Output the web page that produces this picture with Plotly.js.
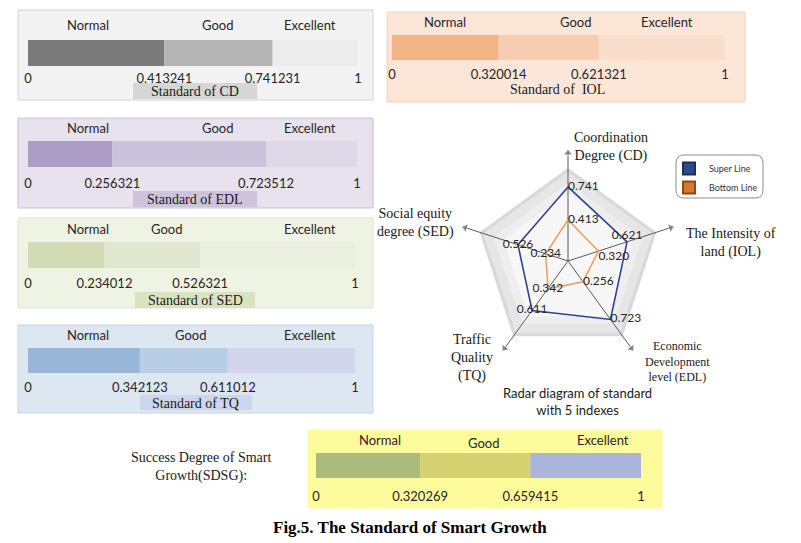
<!DOCTYPE html>
<html>
<head>
<meta charset="utf-8">
<script src="https://cdn.plot.ly/plotly-3.0.1.min.js"></script>
<style>html,body{margin:0;padding:0;background:#fff;}#chart{width:801px;height:543px;}</style>
</head>
<body>
<div id="chart"></div>
<script>
// ---------------- DATA ----------------
const levels = ['Normal', 'Good', 'Excellent'];
const thrCD = [0.413241, 0.741231];
const thrIOL = [0.320014, 0.621321];
const thrEDL = [0.256321, 0.723512];
const thrSED = [0.234012, 0.526321];
const thrTQ = [0.342123, 0.611012];
const thrSDSG = [0.320269, 0.659415];
const tickCD = ['0', '0.413241', '0.741231', '1'];
const tickIOL = ['0', '0.320014', '0.621321', '1'];
const tickEDL = ['0', '0.256321', '0.723512', '1'];
const tickSED = ['0', '0.234012', '0.526321', '1'];
const tickTQ = ['0', '0.342123', '0.611012', '1'];
const tickSDSG = ['0', '0.320269', '0.659415', '1'];
const radarAxes = ['CD', 'IOL', 'EDL', 'TQ', 'SED'];
const superLine = [0.741, 0.621, 0.723, 0.611, 0.526];
const bottomLine = [0.413, 0.320, 0.256, 0.342, 0.234];

// ---------------- HELPERS / STYLE ----------------
const W = 801, H = 543;
const px = x => x / W;
const py = y => 1 - y / H;
const SANS = 'Lato, "Liberation Sans", sans-serif';
const SERIF = '"Liberation Serif", "Times New Roman", serif';

const panels = [
  {thr: thrCD, ticks: tickCD, box: [18, 10, 373, 100], bar: [28, 40, 358, 66], labelY: 25, labelX: [88, 217, 310], standoff: 3,
   colors: ['#7b7b7b', '#b4b4b4', '#ececec'], bg: '#f3f3f3', border: '#d4d4d4',
   title: 'Standard of CD', titleXY: [195, 91], titleBox: [133, 83, 257, 99], titleBg: '#d6d6d6'},
  {thr: thrIOL, ticks: tickIOL, box: [387, 12, 745, 102], bar: [392, 35, 725, 60], labelY: 22, labelX: [445, 575, 667], standoff: 5,
   colors: ['#f1b487', '#f6cdb0', '#f9dfcb'], bg: '#fce6d8', border: '#f1d2bd',
   title: 'Standard of  IOL', titleXY: [557, 89], titleBox: null, titleBg: null},
  {thr: thrEDL, ticks: tickEDL, box: [18, 118, 373, 208], bar: [28, 141, 357, 167], labelY: 128, labelX: [88, 217, 310], standoff: 7,
   colors: ['#ad9cc6', '#cbc2db', '#ddd7e7'], bg: '#e7e2ee', border: '#cbc2d9',
   title: 'Standard of EDL', titleXY: [195, 199], titleBox: [133, 191, 257, 207], titleBg: '#cdc3dc'},
  {thr: thrSED, ticks: tickSED, box: [18, 218, 373, 308], bar: [28, 242, 355, 268], labelY: 229, labelX: [88, 166, 310], standoff: 6,
   colors: ['#d3dbb4', '#e1e7cf', '#ebefe0'], bg: '#eff3e4', border: '#dfe5cf',
   title: 'Standard of SED', titleXY: [195, 300], titleBox: [135, 292, 255, 308], titleBg: '#d9e3bf'},
  {thr: thrTQ, ticks: tickTQ, box: [18, 325, 373, 413], bar: [28, 348, 355, 373], labelY: 335, labelX: [88, 190, 310], standoff: 5,
   colors: ['#97b6d8', '#b8cee6', '#d3d5ec'], bg: '#dde7f2', border: '#c5d4e6',
   title: 'Standard of TQ', titleXY: [195, 403], titleBox: [140, 395, 252, 410], titleBg: '#cdd6ec'},
  {thr: thrSDSG, ticks: tickSDSG, box: [308, 430, 662, 508], bar: [316, 453, 641, 478], labelY: 440, labelX: [380, 483, 603], standoff: 9,
   labelDY: [0, 3, 0],
   colors: ['#aabb7b', '#d6d272', '#abb4dd'], bg: '#fefb9c', border: '#fefb9c',
   title: null}
];

const traces = [];
const layout = {
  width: W, height: H,
  margin: {l: 0, r: 0, t: 0, b: 0},
  paper_bgcolor: '#ffffff', plot_bgcolor: 'rgba(0,0,0,0)',
  showlegend: true, barmode: 'overlay', hovermode: false,
  shapes: [], annotations: []
};

panels.forEach((p, i) => {
  const n = i + 1;
  const xa = 'xaxis' + (n === 1 ? '' : n), ya = 'yaxis' + (n === 1 ? '' : n);
  const xr = 'x' + (n === 1 ? '' : n), yr = 'y' + (n === 1 ? '' : n);
  const bounds = [0, p.thr[0], p.thr[1], 1];
  traces.push({
    type: 'bar', orientation: 'h', xaxis: xr, yaxis: yr,
    y: [0, 0, 0], base: bounds.slice(0, 3),
    x: [bounds[1] - bounds[0], bounds[2] - bounds[1], bounds[3] - bounds[2]],
    width: 1, marker: {color: p.colors, line: {width: 0}},
    text: levels, textposition: 'none', showlegend: false, hoverinfo: 'skip'
  });
  layout[xa] = {
    domain: [px(p.bar[0]), px(p.bar[2])], anchor: yr, range: [0, 1],
    showgrid: false, zeroline: false, showline: false, ticks: '',
    tickmode: 'array', tickvals: bounds, ticktext: p.ticks, ticklabelstandoff: p.standoff,
    tickfont: {family: SANS, size: 13, color: '#262626'}, fixedrange: true
  };
  layout[ya] = {
    domain: [py(p.bar[3]), py(p.bar[1])], anchor: xr, range: [-0.5, 0.5],
    visible: false, fixedrange: true
  };
  layout.shapes.push({type: 'rect', xref: 'paper', yref: 'paper', layer: 'below',
    x0: px(p.box[0]), x1: px(p.box[2]), y0: py(p.box[3]), y1: py(p.box[1]),
    fillcolor: p.bg, line: {color: p.border, width: 1}});
  levels.forEach((lv, k) => {
    layout.annotations.push({xref: 'paper', yref: 'paper', x: px(p.labelX[k]),
      y: py(p.labelY + (p.labelDY ? p.labelDY[k] : 0)), text: lv, showarrow: false,
      xanchor: 'center', yanchor: 'middle', font: {family: SANS, size: 13, color: '#262626'}});
  });
  if (p.title) {
    if (p.titleBox) {
      layout.shapes.push({type: 'rect', xref: 'paper', yref: 'paper', layer: 'below',
        x0: px(p.titleBox[0]), x1: px(p.titleBox[2]), y0: py(p.titleBox[3]), y1: py(p.titleBox[1]),
        fillcolor: p.titleBg, line: {width: 0}});
    }
    layout.annotations.push({xref: 'paper', yref: 'paper', x: px(p.titleXY[0]), y: py(p.titleXY[1]),
      text: p.title, showarrow: false, xanchor: 'center', yanchor: 'middle',
      font: {family: SERIF, size: 14, color: '#1a1a1a'}});
  }
});

// ---------------- RADAR ----------------
layout.polar = {
  domain: {x: [px(458), px(678)], y: [py(371), py(151)]},
  bgcolor: 'rgba(0,0,0,0)',
  radialaxis: {range: [0, 1.1], visible: false},
  angularaxis: {visible: false, type: 'category', rotation: 90, direction: 'clockwise',
    categoryorder: 'array', categoryarray: radarAxes}
};
const closed = a => a.concat([a[0]]);
const ring = (r, color) => ({type: 'scatterpolar', r: closed(radarAxes.map(() => r)), theta: closed(radarAxes),
  mode: 'lines', fill: 'toself', fillcolor: color, line: {width: 0, color: color}, showlegend: false, hoverinfo: 'skip'});
traces.push(ring(0.93, '#d9d9d9'));
traces.push(ring(0.89, '#e6e6e6'));
traces.push(ring(0.78, '#eeeeee'));
traces.push(ring(0.68, '#f7f7f7'));
radarAxes.forEach(c => {
  traces.push({type: 'scatterpolar', r: [0, 1.08], theta: [c, c], mode: 'lines+markers',
    line: {color: '#5a5a5a', width: 1},
    marker: {size: [0, 8], symbol: 'triangle-up', angleref: 'previous', color: '#5a5a5a'},
    showlegend: false, hoverinfo: 'skip'});
});
traces.push({type: 'scatterpolar', r: closed(superLine), theta: closed(radarAxes), mode: 'lines',
  line: {color: '#34438f', width: 1.6}, showlegend: false, hoverinfo: 'skip'});
traces.push({type: 'scatterpolar', r: closed(bottomLine), theta: closed(radarAxes), mode: 'lines',
  line: {color: '#f0a060', width: 1.6}, showlegend: false, hoverinfo: 'skip'});
traces.push({type: 'scatterpolar', r: superLine, theta: radarAxes, mode: 'text',
  text: superLine.map(v => v.toFixed(3)),
  textposition: ['middle right', 'top center', 'middle right', 'middle center', 'middle center'],
  textfont: {family: SANS, size: 12, color: '#262626'}, showlegend: false, hoverinfo: 'skip'});
traces.push({type: 'scatterpolar', r: bottomLine, theta: radarAxes, mode: 'text',
  text: bottomLine.map(v => v.toFixed(3)),
  textposition: ['middle right', 'bottom right', 'middle right', 'middle center', 'middle center'],
  textfont: {family: SANS, size: 12, color: '#262626'}, showlegend: false, hoverinfo: 'skip'});
// legend entries
traces.push({type: 'scatterpolar', r: [null], theta: ['CD'], mode: 'markers', name: 'Super Line',
  marker: {symbol: 'square', size: 10, color: '#2f4a8a', line: {color: '#1c2e5e', width: 1}}});
traces.push({type: 'scatterpolar', r: [null], theta: ['CD'], mode: 'markers', name: 'Bottom Line',
  marker: {symbol: 'square', size: 10, color: '#d9782a', line: {color: '#8a4a14', width: 1}}});

layout.legend = {x: px(669), y: py(154), xanchor: 'left', yanchor: 'top',
  bgcolor: 'rgba(0,0,0,0)', borderwidth: 0, font: {family: SANS, size: 9, color: '#333'},
  itemsizing: 'constant', tracegroupgap: 0};

// rounded legend frame
(function () {
  const x0 = 676, y0 = 155, x1 = 763, y1 = 198, r = 8;
  const P = (x, y) => px(x) + ',' + py(y);
  const path = 'M' + P(x0 + r, y0) + ' L' + P(x1 - r, y0) + ' Q' + P(x1, y0) + ' ' + P(x1, y0 + r) +
    ' L' + P(x1, y1 - r) + ' Q' + P(x1, y1) + ' ' + P(x1 - r, y1) +
    ' L' + P(x0 + r, y1) + ' Q' + P(x0, y1) + ' ' + P(x0, y1 - r) +
    ' L' + P(x0, y0 + r) + ' Q' + P(x0, y0) + ' ' + P(x0 + r, y0) + ' Z';
  layout.shapes.push({type: 'path', xref: 'paper', yref: 'paper', layer: 'below', path: path,
    fillcolor: '#ffffff', line: {color: '#8c8c8c', width: 1}});
})();

const addText = (x, y, text, font, align) => layout.annotations.push({xref: 'paper', yref: 'paper',
  x: px(x), y: py(y), text: text, showarrow: false, xanchor: 'center', yanchor: 'middle',
  align: align || 'center', font: font});
const serif14 = {family: SERIF, size: 14, color: '#1a1a1a'};
addText(611, 147, 'Coordination<br>Degree (CD)', serif14);
addText(731, 243, 'The Intensity of<br>land (IOL)', serif14);
addText(677, 361, 'Economic<br>Development<br>level (EDL)', {family: SERIF, size: 12, color: '#1a1a1a'});
addText(472, 358, 'Traffic<br>Quality<br>(TQ)', serif14);
addText(415, 223, 'Social equity<br>degree (SED)', serif14);
addText(577, 401, 'Radar diagram of standard<br>with 5 indexes', {family: SANS, size: 13, color: '#1a1a1a'});
addText(201, 467, 'Success Degree of Smart<br>Growth(SDSG):', serif14);
addText(410, 527, '<b>Fig.5. The Standard of Smart Growth</b>', {family: SERIF, size: 17, color: '#000'});

Plotly.newPlot('chart', traces, layout, {staticPlot: true, displayModeBar: false});
</script>
</body>
</html>
